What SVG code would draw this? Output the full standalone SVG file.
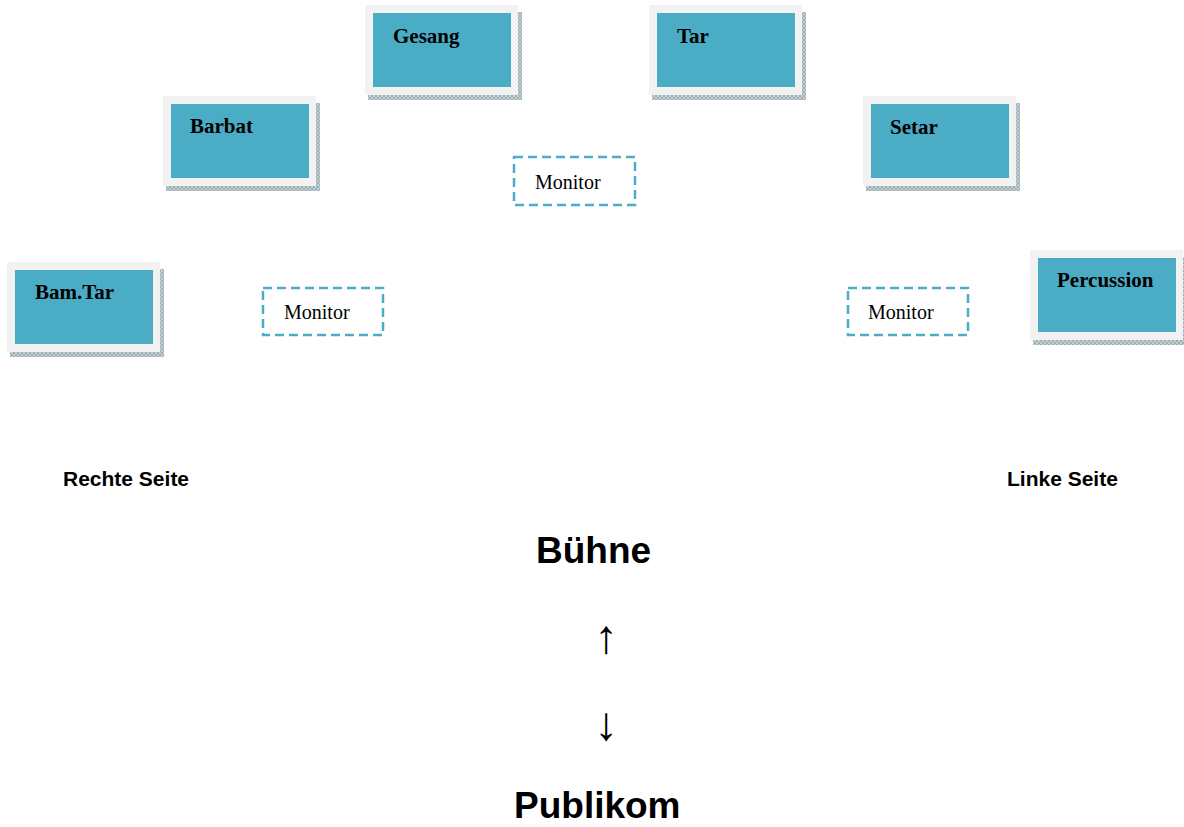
<svg xmlns="http://www.w3.org/2000/svg" width="1184" height="827" viewBox="0 0 1184 827">
<style>
.frame{fill:#f2f2f2}
.shade{fill:url(#hatch)}
.box{fill:#4bacc6}
.lbl{font-family:"Liberation Serif","Times New Roman",serif;font-weight:bold;font-size:21px;fill:#000}
.mon{fill:#fff;stroke:#4bacc6;stroke-width:2.5;stroke-dasharray:9,5}
.mtxt{font-family:"Liberation Serif","Times New Roman",serif;font-size:20px;fill:#000}
.side{font-family:"Liberation Sans",Arial,sans-serif;font-weight:bold;font-size:21px;fill:#000}
.big{font-family:"Liberation Sans",Arial,sans-serif;font-weight:bold;font-size:37px;fill:#000}
.arr{font-family:"Liberation Sans","DejaVu Sans",sans-serif;font-size:47px;fill:#000}
</style>
<defs>
<pattern id="hatch" width="4" height="4" patternUnits="userSpaceOnUse">
<rect width="4" height="4" fill="#c3cfd1"/>
<rect width="2" height="2" fill="#9db1b4"/>
<rect x="2" y="2" width="2" height="2" fill="#9db1b4"/>
</pattern>
<g id="card">
<rect class="shade" x="3" y="7" width="154" height="88"/>
<rect class="frame" x="0" y="0" width="153" height="90"/>
<rect class="box" x="8" y="8" width="138" height="74"/>
</g>
</defs>
<rect width="1184" height="827" fill="#fff"/>
<g id="gesang"><use href="#card" x="365" y="5"/><text class="lbl" x="393" y="43">Gesang</text></g>
<g id="tar"><use href="#card" x="649" y="5"/><text class="lbl" x="677" y="43">Tar</text></g>
<g id="barbat"><use href="#card" x="163" y="96"/><text class="lbl" x="190" y="133">Barbat</text></g>
<g id="setar"><use href="#card" x="863" y="96"/><text class="lbl" x="890" y="134">Setar</text></g>
<g id="bamtar"><use href="#card" x="7" y="262"/><text class="lbl" x="35" y="299">Bam.Tar</text></g>
<g id="percussion"><use href="#card" x="1030" y="250"/><text class="lbl" x="1057" y="287">Percussion</text></g>
<g id="monitor-center"><rect class="mon" x="514" y="157" width="121" height="48"/><text class="mtxt" x="535" y="189">Monitor</text></g>
<g id="monitor-left"><rect class="mon" x="263" y="288" width="120" height="47"/><text class="mtxt" x="284" y="319">Monitor</text></g>
<g id="monitor-right"><rect class="mon" x="848" y="288" width="120" height="47"/><text class="mtxt" x="868" y="319">Monitor</text></g>
<g id="labels">
<text class="side" x="63" y="486">Rechte Seite</text>
<text class="side" x="1007" y="486">Linke Seite</text>
<text class="big" x="536" y="563">Bühne</text>
<text class="big" x="514" y="818">Publikom</text>
</g>
<g id="connectors">
<text class="arr" x="606" y="653" text-anchor="middle">↑</text>
<text class="arr" x="606" y="740" text-anchor="middle">↓</text>
</g>
</svg>
